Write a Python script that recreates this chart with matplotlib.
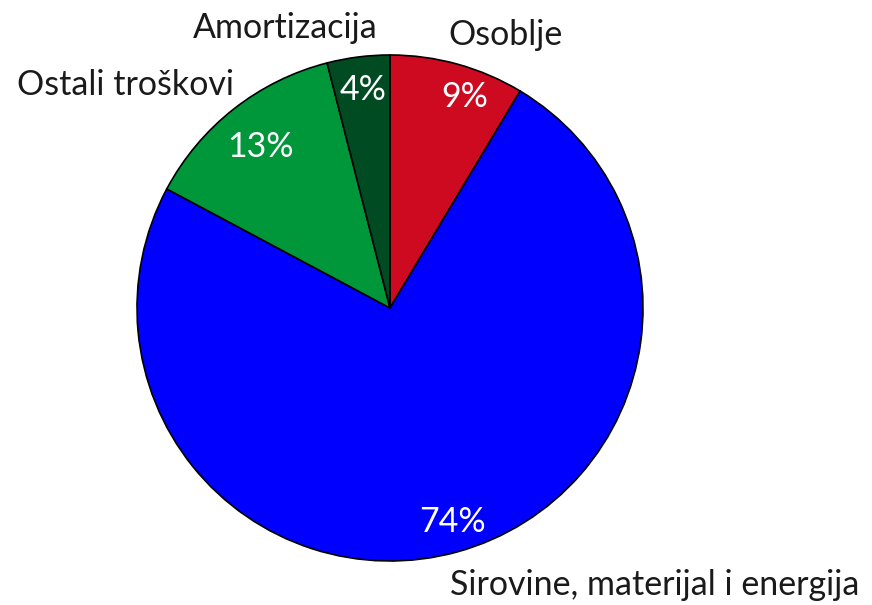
import matplotlib
matplotlib.use("Agg")
import matplotlib.pyplot as plt

categories = ["Osoblje", "Sirovine, materijal i energija", "Ostali troškovi", "Amortizacija"]
values = [8.6, 74.2, 13.2, 4.0]
colors = ["#CE0A20", "#0000FF", "#00963A", "#004B22"]

plt.rcParams['font.family'] = ['Lato', 'DejaVu Sans']

W, H = 872, 605
fig = plt.figure(figsize=(W / 100, H / 100), dpi=100)
cx, cy, r = 390, 308, 253
ax = fig.add_axes([(cx - r) / W, (H - cy - r) / H, 2 * r / W, 2 * r / H])
ax.set_xlim(-1, 1)
ax.set_ylim(-1, 1)
ax.axis('off')

wedges, texts, autotexts = ax.pie(
    values, labels=categories, colors=colors, startangle=90, counterclock=False,
    radius=1, autopct='%.0f%%', pctdistance=0.87, labeldistance=1.1,
    wedgeprops=dict(edgecolor='black', linewidth=1.2),
    textprops=dict(fontsize=24.5, color='#1a1a1a'))
ax.set_xlim(-1, 1)
ax.set_ylim(-1, 1)

def px(x, y):
    return ((x - cx) / r, (cy - y) / r)

label_pos = [(505, 35), (655, 585), (125, 85), (285, 28)]
pct_pos = [(465, 97), (452, 522), (260, 147), (363, 90)]
for t, p in zip(texts, label_pos):
    t.set_position(px(*p))
    t.set_ha('center'); t.set_va('center')
for t, p in zip(autotexts, pct_pos):
    t.set_position(px(*p))
    t.set_ha('center'); t.set_va('center')
    t.set_color('white')

fig.savefig("out.png", dpi=100)
